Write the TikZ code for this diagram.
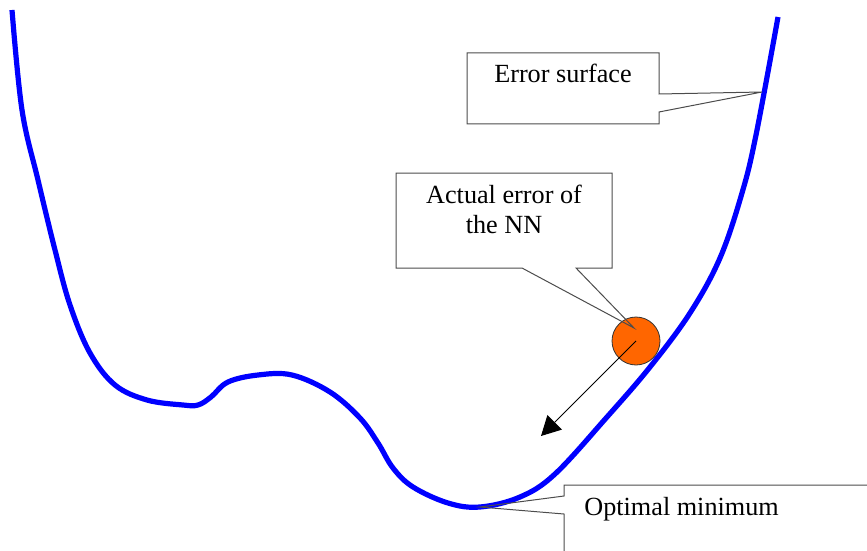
\documentclass[tikz,border=0pt]{standalone}
\usepackage{fontspec}
\setmainfont{Liberation Serif}
\usetikzlibrary{arrows.meta}

\definecolor{surfblue}{RGB}{0,0,255}
\definecolor{ballorange}{RGB}{255,102,0}

\begin{document}
\begin{tikzpicture}[
  x=0.5pt, y=-0.5pt,
  font=\fontsize{13.1}{15}\selectfont,
  callout/.style = {draw=black!70, line width=0.5pt, line join=miter},
  txt/.style     = {inner sep=0pt},
  surface/.style = {draw=surfblue, line width=2.6pt, line join=round},
  ball/.style    = {circle, draw=black!80, fill=ballorange, line width=0.4pt,
                    minimum size=24pt, inner sep=0pt},
  ar/.style      = {-{Triangle[length=9.7pt,width=10.2pt]}, line width=0.5pt, draw=black},
]
\clip (0,0) rectangle (867,551);

% ---- error surface ---------------------------------------------------------
\draw[surface] plot[smooth, tension=0.6] coordinates {
  (12,10) (22,110) (38,180) (55,250) (70,305) (90,353) (115,385)
  (147,400) (183,405) (198,405) (211,397) (228,382) (258,375) (292,375)
  (330,392) (360,418) (378,443) (393,468) (413,487) (448,503) (480,507)
  (520,497) (555,474) (607,417) (650,367) (690,313) (720,258) (742,193)
  (756,135) (778,17)};

\coordinate (errtip) at (762,92);
\coordinate (mintip) at (480,507);

% ---- actual error ----------------------------------------------------------
\node[ball] (nn) at (636,341) {};
\coordinate (nntip) at (634,328);
\coordinate (step) at (541,436);
\draw[ar] (nn.center) -- (step);

% ---- callouts --------------------------------------------------------------
\draw[callout] (467,53) -- (659,53) -- (659,94) -- (errtip) -- (659,112)
  -- (659,124) -- (467,124) -- cycle;
\node[txt, anchor=base] (errlbl) at (563,83) {Error surface};

\draw[callout] (396,173) -- (612,173) -- (612,268) -- (576,268) -- (nntip)
  -- (522,268) -- (396,268) -- cycle;
\node[txt, anchor=base] (nnlbl1) at (504,203) {Actual error of};
\node[txt, anchor=base] (nnlbl2) at (504,233) {the NN};

\draw[callout] (564,496) -- (564,485) -- (900,485) -- (900,600) -- (564,600)
  -- (564,514) -- (mintip) -- cycle;
\node[txt, anchor=base west] (minlbl) at (584,515) {Optimal minimum};

\end{tikzpicture}
\end{document}
